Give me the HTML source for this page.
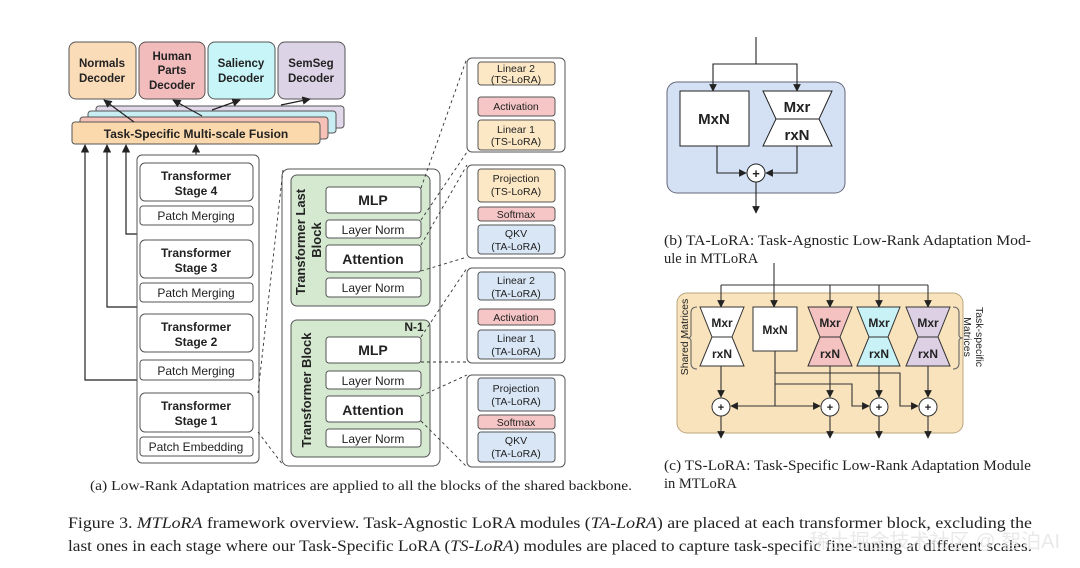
<!DOCTYPE html>
<html><head><meta charset="utf-8"><style>
html,body{margin:0;padding:0;background:#fff;width:1080px;height:568px;overflow:hidden}
svg{display:block}
.s{font-family:"Liberation Sans",sans-serif;font-weight:bold;fill:#222;text-anchor:middle}
.n{font-family:"Liberation Sans",sans-serif;fill:#222;text-anchor:middle}
.r{font-family:"Liberation Serif",serif;fill:#222}
</style></head><body>
<svg width="1080" height="568" viewBox="0 0 1080 568" xmlns="http://www.w3.org/2000/svg">
<defs>
<marker id="a" viewBox="0 0 10 10" refX="9" refY="5" markerWidth="7" markerHeight="7" orient="auto-start-reverse"><path d="M0,0L10,5L0,10z" fill="#222"/></marker>
</defs>
<g stroke="#555" stroke-width="1">
<rect x="69" y="42" width="67" height="57" rx="7" fill="#fbdcb8"/>
<rect x="139" y="42" width="66" height="57" rx="7" fill="#f3bcbc"/>
<rect x="208" y="42" width="67" height="57" rx="7" fill="#c8f5f8"/>
<rect x="278" y="42" width="67" height="57" rx="7" fill="#ddd3e6"/>
<rect x="96" y="106" width="248" height="22" rx="3" fill="#e1d8ea"/>
<rect x="88" y="111" width="248" height="22" rx="3" fill="#c8eef3"/>
<rect x="80" y="117" width="248" height="22" rx="3" fill="#f6c2b8"/>
<rect x="72" y="122" width="248" height="22" rx="3" fill="#fcd9ad"/>
</g>
<g class="s" font-size="11.5">
<text x="102" y="67">Normals</text><text x="102" y="82">Decoder</text>
<text x="172" y="60">Human</text><text x="172" y="74">Parts</text><text x="172" y="89">Decoder</text>
<text x="241" y="67">Saliency</text><text x="241" y="82">Decoder</text>
<text x="311" y="67">SemSeg</text><text x="311" y="82">Decoder</text>
<text x="196" y="138" font-size="12">Task-Specific Multi-scale Fusion</text>
</g>
<g stroke="#222" stroke-width="1.2" fill="none" marker-end="url(#a)">
<line x1="134" y1="122" x2="104" y2="100"/>
<line x1="202" y1="116" x2="173" y2="100"/>
<line x1="212" y1="110" x2="240" y2="100"/>
<line x1="281" y1="105" x2="310" y2="99"/>
<path d="M196,386 V380 H85 V145"/>
<path d="M196,310 V307 H107 V145"/>
<path d="M196,235 V234 H126 V145"/>
<line x1="196" y1="163" x2="196" y2="145"/>
<line x1="361" y1="320" x2="361" y2="307"/>
</g>
<g stroke="#555" stroke-width="1" fill="#fff">
<rect x="137" y="155" width="122" height="308" rx="5"/>
<rect x="140" y="163" width="113" height="38" rx="5"/>
<rect x="140" y="206" width="113" height="19" rx="3"/>
<rect x="140" y="240" width="113" height="38" rx="5"/>
<rect x="140" y="283" width="113" height="19" rx="3"/>
<rect x="140" y="314" width="113" height="38" rx="5"/>
<rect x="140" y="360" width="113" height="20" rx="3"/>
<rect x="140" y="393" width="113" height="39" rx="5"/>
<rect x="140" y="437" width="113" height="19" rx="3"/>
</g>
<g class="s" font-size="12">
<text x="196" y="180">Transformer</text><text x="196" y="195">Stage 4</text>
<text x="196" y="257">Transformer</text><text x="196" y="272">Stage 3</text>
<text x="196" y="331">Transformer</text><text x="196" y="346">Stage 2</text>
<text x="196" y="410">Transformer</text><text x="196" y="425">Stage 1</text>
</g>
<g class="n" font-size="12">
<text x="196" y="220">Patch Merging</text>
<text x="196" y="297">Patch Merging</text>
<text x="196" y="375">Patch Merging</text>
<text x="196" y="451">Patch Embedding</text>
</g>
<g stroke="#555" stroke-width="1">
<rect x="282" y="169" width="158" height="297" rx="7" fill="#fff"/>
<rect x="291" y="175" width="139" height="131" rx="6" fill="#d5e8d0"/>
<rect x="291" y="320" width="139" height="137" rx="6" fill="#d5e8d0"/>
<g fill="#fff">
<rect x="326" y="187" width="95" height="26" rx="3"/>
<rect x="326" y="220" width="95" height="18" rx="3"/>
<rect x="326" y="245" width="95" height="27" rx="3"/>
<rect x="326" y="278" width="95" height="19" rx="3"/>
<rect x="326" y="337" width="95" height="26" rx="3"/>
<rect x="326" y="371" width="95" height="18" rx="3"/>
<rect x="326" y="396" width="95" height="26" rx="3"/>
<rect x="326" y="429" width="95" height="18" rx="3"/>
</g></g>
<g class="s" font-size="14"><text x="373" y="205">MLP</text><text x="373" y="264">Attention</text><text x="373" y="355">MLP</text><text x="373" y="415">Attention</text></g>
<g class="n" font-size="12"><text x="373" y="234">Layer Norm</text><text x="373" y="292">Layer Norm</text><text x="373" y="385">Layer Norm</text><text x="373" y="443">Layer Norm</text></g>
<text class="s" x="414" y="331" font-size="12">N-1</text>
<text class="s" font-size="13" transform="translate(305,242) rotate(-90)">Transformer Last</text>
<text class="s" font-size="13" transform="translate(321,240) rotate(-90)">Block</text>
<text class="s" font-size="13" transform="translate(311,390) rotate(-90)">Transformer Block</text>
<g stroke="#555" stroke-width="1">
<g fill="#fff">
<rect x="467" y="58" width="98" height="94" rx="5"/>
<rect x="467" y="165" width="98" height="93" rx="5"/>
<rect x="467" y="268" width="98" height="95" rx="5"/>
<rect x="467" y="375" width="98" height="92" rx="5"/>
</g>
<rect x="478" y="62" width="77" height="23" rx="3" fill="#fde8c6"/>
<rect x="478" y="97" width="77" height="19" rx="3" fill="#f6c6c6"/>
<rect x="478" y="120" width="77" height="30" rx="3" fill="#fde8c6"/>
<rect x="478" y="169" width="77" height="33" rx="3" fill="#fde8c6"/>
<rect x="478" y="207" width="77" height="14" rx="3" fill="#f6c6c6"/>
<rect x="478" y="225" width="77" height="29" rx="3" fill="#d8e6f6"/>
<rect x="478" y="272" width="77" height="28" rx="3" fill="#d8e6f6"/>
<rect x="478" y="309" width="77" height="16" rx="3" fill="#f6c6c6"/>
<rect x="478" y="330" width="77" height="29" rx="3" fill="#d8e6f6"/>
<rect x="478" y="378" width="77" height="33" rx="3" fill="#d8e6f6"/>
<rect x="478" y="415" width="77" height="14" rx="3" fill="#f6c6c6"/>
<rect x="478" y="432" width="77" height="30" rx="3" fill="#d8e6f6"/>
</g>
<g class="n" font-size="10.5">
<text x="516" y="72">Linear 2</text><text x="516" y="83">(TS-LoRA)</text>
<text x="516" y="110">Activation</text>
<text x="516" y="133">Linear 1</text><text x="516" y="145">(TS-LoRA)</text>
<text x="516" y="182">Projection</text><text x="516" y="195">(TS-LoRA)</text>
<text x="516" y="218">Softmax</text>
<text x="516" y="237">QKV</text><text x="516" y="250">(TA-LoRA)</text>
<text x="516" y="284">Linear 2</text><text x="516" y="297">(TA-LoRA)</text>
<text x="516" y="321">Activation</text>
<text x="516" y="342">Linear 1</text><text x="516" y="355">(TA-LoRA)</text>
<text x="516" y="392">Projection</text><text x="516" y="405">(TA-LoRA)</text>
<text x="516" y="426">Softmax</text>
<text x="516" y="444">QKV</text><text x="516" y="457">(TA-LoRA)</text>
</g>
<g stroke="#333" stroke-width="0.9" stroke-dasharray="3,3" fill="none">
<line x1="283" y1="170" x2="258" y2="393"/>
<line x1="258" y1="432" x2="283" y2="465"/>
<line x1="421" y1="188" x2="467" y2="58"/>
<line x1="421" y1="220" x2="467" y2="152"/>
<line x1="421" y1="245" x2="467" y2="165"/>
<line x1="421" y1="271" x2="467" y2="257"/>
<line x1="421" y1="337" x2="467" y2="268"/>
<line x1="421" y1="362" x2="467" y2="362"/>
<line x1="421" y1="396" x2="467" y2="375"/>
<line x1="421" y1="421" x2="467" y2="467"/>
</g>
<text class="r" x="90" y="490" font-size="13.5" textLength="542" lengthAdjust="spacingAndGlyphs">(a) Low-Rank Adaptation matrices are applied to all the blocks of the shared backbone.</text>
<rect x="667" y="82" width="178" height="111" rx="10" fill="#d4e1f4" stroke="#667"/>
<rect x="680" y="91" width="69" height="55" fill="#fff" stroke="#222"/>
<path d="M763,91H832L819,119L832,146H763L776,119Z" fill="#fff" stroke="#222"/>
<line x1="776" y1="119" x2="819" y2="119" stroke="#222"/>
<text class="s" x="714" y="124" font-size="15">MxN</text>
<text class="s" x="797" y="112" font-size="15">Mxr</text>
<text class="s" x="797" y="140" font-size="15">rxN</text>
<circle cx="756" cy="173" r="9" fill="#fff" stroke="#222"/>
<text class="s" x="756" y="178" font-size="13">+</text>
<g stroke="#222" stroke-width="1.1" fill="none">
<path d="M756,37V64"/>
<path d="M756,64H713V91" marker-end="url(#a)"/>
<path d="M756,64H797V91" marker-end="url(#a)"/>
<path d="M717,146V173H746" marker-end="url(#a)"/>
<path d="M797,146V173H766" marker-end="url(#a)"/>
<path d="M756,182V213" marker-end="url(#a)"/>
</g>
<text class="r" x="664" y="245" font-size="14.5" textLength="367" lengthAdjust="spacingAndGlyphs">(b) TA-LoRA: Task-Agnostic Low-Rank Adaptation Mod-</text>
<text class="r" x="664" y="263" font-size="14.5">ule in MTLoRA</text>
<rect x="677" y="293" width="286" height="140" rx="10" fill="#f8e3bd" stroke="#b9a57d"/>
<path d="M700,307H744L732,337L744,366H700L712,337Z" fill="#fff" stroke="#333"/>
<rect x="753" y="307" width="44" height="44" fill="#fff" stroke="#333"/>
<path d="M808,307H852L840,337L852,366H808L820,337Z" fill="#f4c2c0" stroke="#333"/>
<path d="M857,307H900L888,337L900,366H857L869,337Z" fill="#c8f2f6" stroke="#333"/>
<path d="M906,307H950L938,337L950,366H906L918,337Z" fill="#ddd0e4" stroke="#333"/>
<g stroke="#333"><line x1="712" y1="337" x2="732" y2="337"/><line x1="820" y1="337" x2="840" y2="337"/><line x1="869" y1="337" x2="888" y2="337"/><line x1="918" y1="337" x2="938" y2="337"/></g>
<g class="s" font-size="12">
<text x="722" y="327">Mxr</text><text x="722" y="358">rxN</text>
<text x="775" y="334">MxN</text>
<text x="830" y="327">Mxr</text><text x="830" y="358">rxN</text>
<text x="879" y="327">Mxr</text><text x="879" y="358">rxN</text>
<text x="928" y="327">Mxr</text><text x="928" y="358">rxN</text>
</g>
<g stroke="#333" stroke-width="1.1" fill="none">
<path d="M774,263V285"/>
<path d="M721,285H928"/>
<path d="M721,285V307" marker-end="url(#a)"/>
<path d="M774,285V307" marker-end="url(#a)"/>
<path d="M830,285V307" marker-end="url(#a)"/>
<path d="M879,285V307" marker-end="url(#a)"/>
<path d="M928,285V307" marker-end="url(#a)"/>
<path d="M721,366V397" marker-end="url(#a)"/>
<path d="M830,366V397" marker-end="url(#a)"/>
<path d="M879,366V397" marker-end="url(#a)"/>
<path d="M928,366V397" marker-end="url(#a)"/>
<path d="M775,351V406"/>
<path d="M775,406H731" marker-end="url(#a)"/>
<path d="M775,406H820" marker-end="url(#a)"/>
<path d="M775,384H852V406H869" marker-end="url(#a)"/>
<path d="M775,373H900V406H918" marker-end="url(#a)"/>
<path d="M721,416V438" marker-end="url(#a)"/>
<path d="M830,416V438" marker-end="url(#a)"/>
<path d="M879,416V438" marker-end="url(#a)"/>
<path d="M928,416V438" marker-end="url(#a)"/>
<path d="M697,307q-6,0 -6,6v22q0,3 -4,3q4,0 4,3v22q0,6 6,6" stroke="#666"/>
<path d="M953,307q6,0 6,6v22q0,3 4,3q-4,0 -4,3v22q0,6 -6,6" stroke="#666"/>
</g>
<g fill="#fff" stroke="#333"><circle cx="721" cy="407" r="9"/><circle cx="830" cy="407" r="9"/><circle cx="879" cy="407" r="9"/><circle cx="928" cy="407" r="9"/></g>
<g class="s" font-size="11"><text x="721" y="411">+</text><text x="830" y="411">+</text><text x="879" y="411">+</text><text x="928" y="411">+</text></g>
<text class="n" font-size="10.5" fill="#555" transform="translate(688,337) rotate(-90)">Shared Matrices</text>
<text class="n" font-size="10.5" transform="translate(976,337) rotate(90)">Task-specific</text>
<text class="n" font-size="10.5" transform="translate(964,337) rotate(90)">Matrices</text>
<text class="r" x="664" y="470" font-size="14.5" textLength="367" lengthAdjust="spacingAndGlyphs">(c) TS-LoRA: Task-Specific Low-Rank Adaptation Module</text>
<text class="r" x="664" y="488" font-size="14.5">in MTLoRA</text>
<text class="r" x="68" y="528" font-size="15.5" textLength="964" lengthAdjust="spacingAndGlyphs">Figure 3. <tspan font-style="italic">MTLoRA</tspan> framework overview. Task-Agnostic LoRA modules (<tspan font-style="italic">TA-LoRA</tspan>) are placed at each transformer block, excluding the</text>
<text class="r" x="68" y="551" font-size="15.5" textLength="964" lengthAdjust="spacingAndGlyphs">last ones in each stage where our Task-Specific LoRA (<tspan font-style="italic">TS-LoRA</tspan>) modules are placed to capture task-specific fine-tuning at different scales.</text>
<text x="1060" y="548" font-family="'Liberation Sans','Noto Sans CJK SC',sans-serif" font-size="20" fill="#e4e4e4" text-anchor="end" opacity="0.8">稀土掘金技术社区 @ 智泊AI</text>
</svg>
</body></html>
